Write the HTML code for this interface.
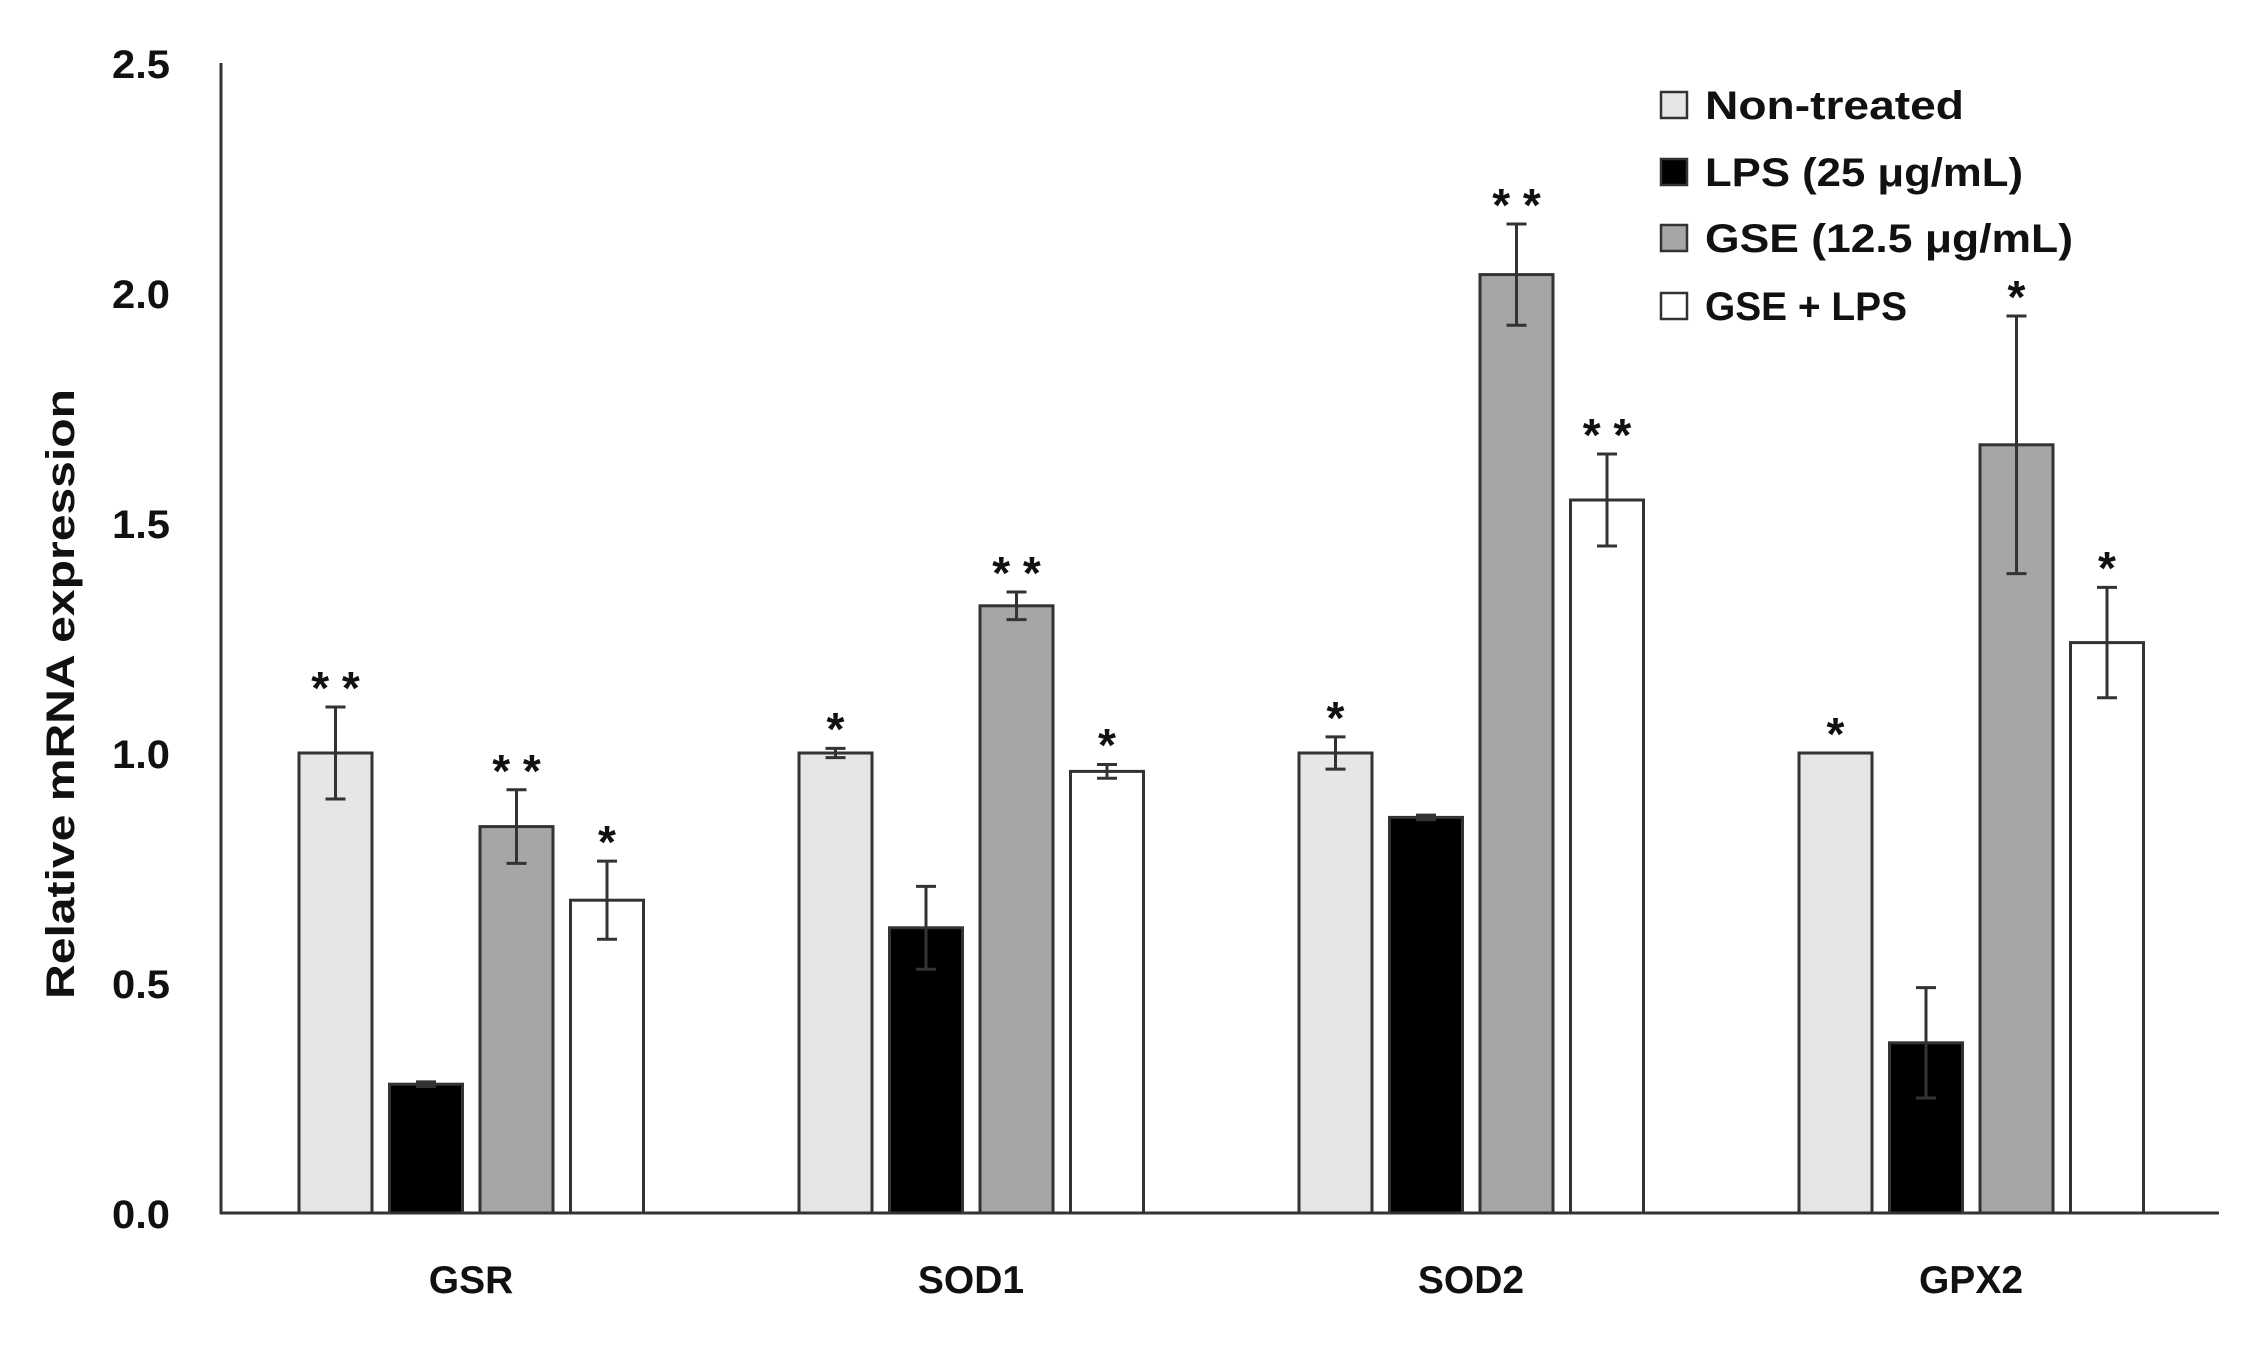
<!DOCTYPE html>
<html><head><meta charset="utf-8"><style>
html,body{margin:0;padding:0;background:#fff;}
svg{display:block;}
text{font-family:"Liberation Sans",sans-serif;font-weight:bold;fill:#111;}
</style></head><body>
<svg width="2252" height="1347" xmlns="http://www.w3.org/2000/svg">
<rect width="2252" height="1347" fill="#fff"/>
<line x1="221" y1="63" x2="221" y2="1214" stroke="#333" stroke-width="3"/>
<line x1="220" y1="1213" x2="2219" y2="1213" stroke="#333" stroke-width="3"/>
<g font-size="40" text-anchor="end">
<text x="170" y="1228" textLength="58" lengthAdjust="spacingAndGlyphs">0.0</text>
<text x="170" y="998" textLength="58" lengthAdjust="spacingAndGlyphs">0.5</text>
<text x="170" y="768" textLength="58" lengthAdjust="spacingAndGlyphs">1.0</text>
<text x="170" y="538" textLength="58" lengthAdjust="spacingAndGlyphs">1.5</text>
<text x="170" y="308" textLength="58" lengthAdjust="spacingAndGlyphs">2.0</text>
<text x="170" y="78" textLength="58" lengthAdjust="spacingAndGlyphs">2.5</text>
</g>
<text transform="translate(74,694) rotate(-90)" font-size="40" text-anchor="middle" textLength="610" lengthAdjust="spacingAndGlyphs">Relative mRNA expression</text>
<g font-size="39" text-anchor="middle">
<text x="471" y="1293">GSR</text>
<text x="971" y="1293">SOD1</text>
<text x="1471" y="1293">SOD2</text>
<text x="1971" y="1293">GPX2</text>
</g>
<g stroke="#333" stroke-width="3">
<rect x="299" y="753" width="73" height="460" fill="#e6e6e6"/>
<rect x="389.5" y="1084.2" width="73" height="128.8" fill="#000"/>
<rect x="480" y="826.6" width="73" height="386.4" fill="#a6a6a6"/>
<rect x="570.5" y="900.2" width="73" height="312.8" fill="#fff"/>
<rect x="799" y="753" width="73" height="460" fill="#e6e6e6"/>
<rect x="889.5" y="927.8" width="73" height="285.2" fill="#000"/>
<rect x="980" y="605.8" width="73" height="607.2" fill="#a6a6a6"/>
<rect x="1070.5" y="771.4" width="73" height="441.6" fill="#fff"/>
<rect x="1299" y="753" width="73" height="460" fill="#e6e6e6"/>
<rect x="1389.5" y="817.4" width="73" height="395.6" fill="#000"/>
<rect x="1480" y="274.6" width="73" height="938.4" fill="#a6a6a6"/>
<rect x="1570.5" y="500" width="73" height="713" fill="#fff"/>
<rect x="1799" y="753" width="73" height="460" fill="#e6e6e6"/>
<rect x="1889.5" y="1042.8" width="73" height="170.2" fill="#000"/>
<rect x="1980" y="444.8" width="73" height="768.2" fill="#a6a6a6"/>
<rect x="2070.5" y="642.6" width="73" height="570.4" fill="#fff"/>
</g>
<g stroke="#333" stroke-width="3" fill="none">
<path d="M325.5 707H345.5M335.5 707V799M325.5 799H345.5"/>
<path d="M416 1081.9H436M426 1081.9V1086.5M416 1086.5H436"/>
<path d="M506.5 789.8H526.5M516.5 789.8V863.4M506.5 863.4H526.5"/>
<path d="M597 861.1H617M607 861.1V939.3M597 939.3H617"/>
<path d="M825.5 748.4H845.5M835.5 748.4V757.6M825.5 757.6H845.5"/>
<path d="M916 886.4H936M926 886.4V969.2M916 969.2H936"/>
<path d="M1006.5 592H1026.5M1016.5 592V619.6M1006.5 619.6H1026.5"/>
<path d="M1097 764.5H1117M1107 764.5V778.3M1097 778.3H1117"/>
<path d="M1325.5 736.9H1345.5M1335.5 736.9V769.1M1325.5 769.1H1345.5"/>
<path d="M1416 815.1H1436M1426 815.1V819.7M1416 819.7H1436"/>
<path d="M1506.5 224H1526.5M1516.5 224V325.2M1506.5 325.2H1526.5"/>
<path d="M1597 454H1617M1607 454V546M1597 546H1617"/>
<path d="M1916 987.6H1936M1926 987.6V1098M1916 1098H1936"/>
<path d="M2006.5 316H2026.5M2016.5 316V573.6M2006.5 573.6H2026.5"/>
<path d="M2097 587.4H2117M2107 587.4V697.8M2097 697.8H2117"/>
</g>
<g font-size="46" text-anchor="middle">
<text x="335.5" y="704">* *</text>
<text x="516.5" y="787">* *</text>
<text x="607" y="858">*</text>
<text x="835.5" y="745">*</text>
<text x="1016.5" y="589">* *</text>
<text x="1107" y="761">*</text>
<text x="1335.5" y="734">*</text>
<text x="1516.5" y="221">* *</text>
<text x="1607" y="451">* *</text>
<text x="1835.5" y="750">*</text>
<text x="2016.5" y="313">*</text>
<text x="2107" y="584">*</text>
</g>
<g font-size="40">
<rect x="1661" y="92" width="26" height="26" fill="#e6e6e6" stroke="#333" stroke-width="2.5"/>
<text x="1705" y="119" textLength="259" lengthAdjust="spacingAndGlyphs">Non-treated</text>
<rect x="1661" y="159" width="26" height="26" fill="#000" stroke="#333" stroke-width="2.5"/>
<text x="1705" y="186" textLength="318" lengthAdjust="spacingAndGlyphs">LPS (25 μg/mL)</text>
<rect x="1661" y="225" width="26" height="26" fill="#a6a6a6" stroke="#333" stroke-width="2.5"/>
<text x="1705" y="252" textLength="368" lengthAdjust="spacingAndGlyphs">GSE (12.5 μg/mL)</text>
<rect x="1661" y="293" width="26" height="26" fill="#fff" stroke="#333" stroke-width="2.5"/>
<text x="1705" y="320" textLength="202" lengthAdjust="spacingAndGlyphs">GSE + LPS</text>
</g>
</svg>
</body></html>
